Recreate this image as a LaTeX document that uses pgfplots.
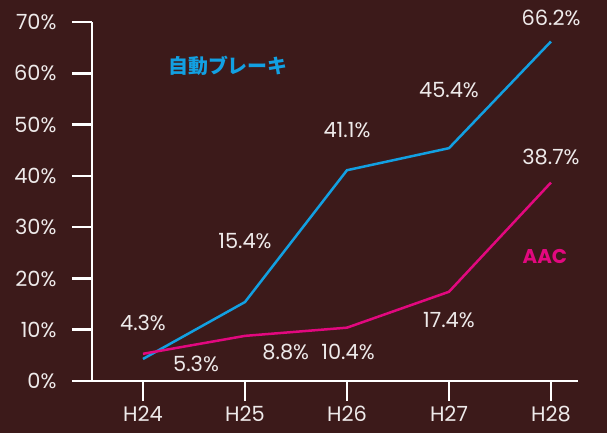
\documentclass[border=0pt]{standalone}
\usepackage{pgfplots}
\pgfplotsset{compat=1.18}
\usepackage{fontspec}
\setmainfont{Poppins}
\newfontfamily\cjk{Noto Sans CJK JP}
\definecolor{bg}{HTML}{3C1A1A}
\definecolor{cblue}{HTML}{12A0E2}
\definecolor{cmag}{HTML}{E2087F}
\definecolor{txt}{HTML}{EEEAEA}
\begin{document}
\begin{tikzpicture}
\fill[bg] (-92bp,-52bp) rectangle (515bp,381bp);
\useasboundingbox (-92bp,-52bp) rectangle (515bp,381bp);
\begin{axis}[
  at={(0,0)}, anchor=south west,
  scale only axis, width=486bp, height=359bp,
  xmin=-0.5, xmax=4.265, ymin=0, ymax=70,
  axis x line*=bottom, axis y line*=left,
  axis line style={white, line width=2.5bp},
  every tick/.style={white, line width=2.5bp},
  tick align=outside, major tick length=20bp,
  xtick={0,1,2,3,4}, xticklabels={H24,H25,H26,H27,H28},
  ytick={0,10,20,30,40,50,60,70},
  yticklabel={\pgfmathprintnumber{\tick}\%},
  /pgf/number format/assume math mode=true,
  tick label style={font=\fontsize{21}{24}\selectfont, text=txt},
  yticklabel style={anchor=east, xshift=-12bp},
  xticklabel style={anchor=north, yshift=-2bp},
  clip=false,
]
\addplot[cblue, line width=2.5bp] coordinates {(0,4.3) (1,15.4) (2,41.1) (3,45.4) (4,66.2)};
\addplot[cmag, line width=2.5bp] coordinates {(0,5.3) (1,8.8) (2,10.4) (3,17.4) (4,38.7)};
\begin{scope}[every node/.style={text=txt, font=\fontsize{21}{24}\selectfont}]
\node at (axis cs:0,11.3) {4.3\%};
\node at (axis cs:1,27.3) {15.4\%};
\node at (axis cs:2,48.9) {41.1\%};
\node at (axis cs:3,56.7) {45.4\%};
\node at (axis cs:4,70.8) {66.2\%};
\node at (axis cs:0.52,3.3) {5.3\%};
\node at (axis cs:1.40,5.65) {8.8\%};
\node at (axis cs:2.01,5.65) {10.4\%};
\node at (axis cs:3,11.9) {17.4\%};
\node at (axis cs:4,43.7) {38.7\%};
\end{scope}
\node[text=cblue, font=\cjk\bfseries\fontsize{20}{24}\selectfont] at (axis cs:0.833,61.4) {自動ブレーキ};
\node[text=cmag, font=\bfseries\fontsize{20}{24}\selectfont] at (axis cs:3.94,24.2) {AAC};
\end{axis}
\end{tikzpicture}
\end{document}
